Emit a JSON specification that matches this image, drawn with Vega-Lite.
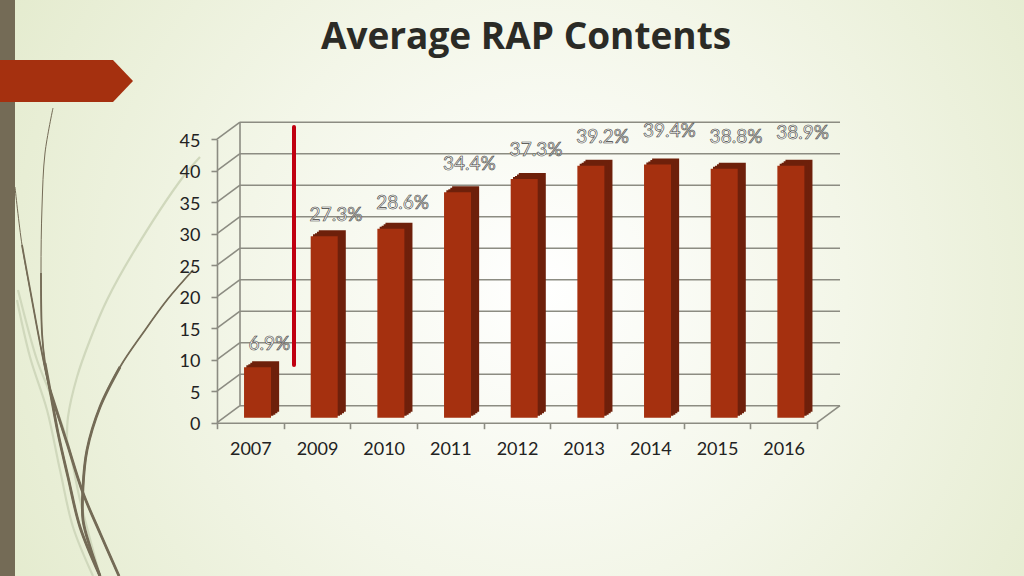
{
"$schema":"https://vega.github.io/schema/vega-lite/v6.json",
"width":1024,"height":576,"padding":0,"autosize":{"type":"none"},
"background":"#e6ecd0",
"title":{"text":"Average RAP Contents","orient":"top","anchor":"middle","offset":-57,"dx":14,"font":"Open Sans","fontSize":37,"fontWeight":"bold","color":"#2b2b26"},
"config":{"view":{"stroke":null},"font":"Lato","axis":{"grid":false}},
"datasets":{
"years":[
{"year":"2007","value":8,"zero":0,"label":"6.9%","labelAt":12.5},
{"year":"2009","value":28.8,"zero":0,"label":"27.3%","labelAt":33},
{"year":"2010","value":30,"zero":0,"label":"28.6%","labelAt":34.9},
{"year":"2011","value":35.8,"zero":0,"label":"34.4%","labelAt":41},
{"year":"2012","value":37.9,"zero":0,"label":"37.3%","labelAt":43.3},
{"year":"2013","value":40,"zero":0,"label":"39.2%","labelAt":45.3},
{"year":"2014","value":40.2,"zero":0,"label":"39.4%","labelAt":46.3},
{"year":"2015","value":39.5,"zero":0,"label":"38.8%","labelAt":45.4},
{"year":"2016","value":40,"zero":0,"label":"38.9%","labelAt":46}
],
"levels":[{"v":0},{"v":5},{"v":10},{"v":15},{"v":20},{"v":25},{"v":30},{"v":35},{"v":40},{"v":45}],
"curves":[
{"c":"A","i":0,"px":53,"py":108},{"c":"A","i":1,"px":45,"py":153},{"c":"A","i":2,"px":42,"py":207},{"c":"A","i":3,"px":41,"py":273},{"c":"A","i":4,"px":42,"py":333},{"c":"A","i":5,"px":45,"py":363},{"c":"A","i":6,"px":50,"py":390},{"c":"A","i":7,"px":58,"py":433},{"c":"A","i":8,"px":68,"py":477},{"c":"A","i":9,"px":80,"py":527},{"c":"A","i":10,"px":100,"py":576},
{"c":"B","i":0,"px":15,"py":187},{"c":"B","i":1,"px":22,"py":245},{"c":"B","i":2,"px":32,"py":300},{"c":"B","i":3,"px":40,"py":343},{"c":"B","i":4,"px":50,"py":390},{"c":"B","i":5,"px":67,"py":443},{"c":"B","i":6,"px":83,"py":493},{"c":"B","i":7,"px":100,"py":533},{"c":"B","i":8,"px":119,"py":576},
{"c":"D","i":0,"px":193,"py":270},{"c":"D","i":1,"px":167,"py":300},{"c":"D","i":2,"px":143,"py":333},{"c":"D","i":3,"px":120,"py":367},{"c":"D","i":4,"px":100,"py":407},{"c":"D","i":5,"px":87,"py":450},{"c":"D","i":6,"px":83,"py":487},{"c":"D","i":7,"px":83,"py":520},{"c":"D","i":8,"px":90,"py":547},{"c":"D","i":9,"px":100,"py":576},
{"c":"E","i":0,"px":200,"py":157},{"c":"E","i":1,"px":183,"py":177},{"c":"E","i":2,"px":133,"py":253},{"c":"E","i":3,"px":107,"py":300},{"c":"E","i":4,"px":90,"py":340},{"c":"E","i":5,"px":77,"py":377},{"c":"E","i":6,"px":68,"py":417},{"c":"E","i":7,"px":67,"py":443},
{"c":"F","i":0,"px":17,"py":300},{"c":"F","i":1,"px":30,"py":357},{"c":"F","i":2,"px":47,"py":410},{"c":"F","i":3,"px":60,"py":470},{"c":"F","i":4,"px":73,"py":527},{"c":"F","i":5,"px":93,"py":576},
{"c":"G","i":0,"px":18,"py":290},{"c":"G","i":1,"px":37,"py":360},{"c":"G","i":2,"px":50,"py":393},{"c":"G","i":3,"px":67,"py":440},{"c":"G","i":4,"px":80,"py":500},{"c":"G","i":5,"px":100,"py":576}
]
},
"resolve":{"scale":{"x":"independent","y":"independent"}},
"layer":[
{"data":{"values":[{"x0":0,"x1":1024,"y0":0,"y1":576}]},
"mark":{"type":"rect","fill":{"gradient":"radial","x1":0.53,"y1":0.5,"r1":0,"x2":0.53,"y2":0.5,"r2":0.74,"stops":[{"offset":0,"color":"#ffffff"},{"offset":0.4,"color":"#f3f6e8"},{"offset":1,"color":"#dde6c2"}]}},
"encoding":{
"x":{"field":"x0","type":"quantitative","axis":null,"scale":{"domain":[0,1024],"range":[0,1024],"nice":false,"zero":false}},
"x2":{"field":"x1"},
"y":{"field":"y0","type":"quantitative","axis":null,"scale":{"domain":[0,576],"range":[0,576],"nice":false,"zero":false}},
"y2":{"field":"y1"}}},
{"data":{"name":"curves"},"mark":{"type":"line","interpolate":"catmull-rom","color":"#d0d8bc","strokeWidth":2.2},
"transform":[{"filter":"datum.c=='E'||datum.c=='F'||datum.c=='G'"}],
"encoding":{"x":{"field":"px","type":"quantitative","axis":null,"scale":{"domain":[0,1024],"range":[0,1024],"nice":false,"zero":false}},"y":{"field":"py","type":"quantitative","axis":null,"scale":{"domain":[0,576],"range":[0,576],"nice":false,"zero":false}},"detail":{"field":"c"},"order":{"field":"i"}}},
{"data":{"name":"curves"},"mark":{"type":"line","interpolate":"catmull-rom","color":"#746b56","strokeWidth":1},
"transform":[{"filter":"datum.c=='A'||datum.c=='B'||datum.c=='D'"}],
"encoding":{"x":{"field":"px","type":"quantitative","axis":null,"scale":{"domain":[0,1024],"range":[0,1024],"nice":false,"zero":false}},"y":{"field":"py","type":"quantitative","axis":null,"scale":{"domain":[0,576],"range":[0,576],"nice":false,"zero":false}},"detail":{"field":"c"},"order":{"field":"i"}}},
{"data":{"name":"curves"},"mark":{"type":"line","interpolate":"catmull-rom","color":"#746b56","strokeWidth":1.8},
"transform":[{"filter":"(datum.c=='A'||datum.c=='B'||datum.c=='D')&&datum.py>=240"}],
"encoding":{"x":{"field":"px","type":"quantitative","axis":null,"scale":{"domain":[0,1024],"range":[0,1024],"nice":false,"zero":false}},"y":{"field":"py","type":"quantitative","axis":null,"scale":{"domain":[0,576],"range":[0,576],"nice":false,"zero":false}},"detail":{"field":"c"},"order":{"field":"i"}}},
{"data":{"name":"curves"},"mark":{"type":"line","interpolate":"catmull-rom","color":"#746b56","strokeWidth":2.8},
"transform":[{"filter":"(datum.c=='A'||datum.c=='B'||datum.c=='D')&&datum.py>=360"}],
"encoding":{"x":{"field":"px","type":"quantitative","axis":null,"scale":{"domain":[0,1024],"range":[0,1024],"nice":false,"zero":false}},"y":{"field":"py","type":"quantitative","axis":null,"scale":{"domain":[0,576],"range":[0,576],"nice":false,"zero":false}},"detail":{"field":"c"},"order":{"field":"i"}}},
{"data":{"values":[{"x0":0,"x1":15,"y0":0,"y1":576}]},"mark":{"type":"rect","color":"#746b56"},
"encoding":{"x":{"field":"x0","type":"quantitative","axis":null,"scale":{"domain":[0,1024],"range":[0,1024],"nice":false,"zero":false}},"x2":{"field":"x1"},"y":{"field":"y0","type":"quantitative","axis":null,"scale":{"domain":[0,576],"range":[0,576],"nice":false,"zero":false}},"y2":{"field":"y1"}}},
{"data":{"values":[{"px":0,"top":60,"bot":102},{"px":113,"top":60,"bot":102},{"px":133,"top":81,"bot":81}]},"mark":{"type":"area","color":"#a5300f","opacity":1},
"encoding":{"x":{"field":"px","type":"quantitative","axis":null,"scale":{"domain":[0,1024],"range":[0,1024],"nice":false,"zero":false}},"y":{"field":"top","type":"quantitative","axis":null,"scale":{"domain":[0,576],"range":[0,576],"nice":false,"zero":false}},"y2":{"field":"bot"}}},
{"data":{"name":"levels"},"mark":{"type":"rule","color":"#8c8c82","strokeWidth":1.6,"yOffset":-17},
"encoding":{
"x":{"datum":240,"type":"quantitative","axis":null,"scale":{"domain":[0,1024],"range":[0,1024],"nice":false,"zero":false}},
"x2":{"datum":840},
"y":{"field":"v","type":"quantitative","axis":null,"scale":{"domain":[0,45],"range":[422.7,139.2],"nice":false}}}},
{"data":{"name":"levels"},"mark":{"type":"rule","color":"#8c8c82","strokeWidth":1.6,"y2Offset":-17},
"encoding":{
"x":{"datum":217,"type":"quantitative","axis":null,"scale":{"domain":[0,1024],"range":[0,1024],"nice":false,"zero":false}},"x2":{"datum":240},
"y":{"field":"v","type":"quantitative","axis":null,"scale":{"domain":[0,45],"range":[422.7,139.2],"nice":false}},"y2":{"field":"v"}}},
{"data":{"values":[{"v":0}]},"mark":{"type":"rule","color":"#8c8c82","strokeWidth":1.6,"y2Offset":-17},
"encoding":{
"x":{"datum":817,"type":"quantitative","axis":null,"scale":{"domain":[0,1024],"range":[0,1024],"nice":false,"zero":false}},"x2":{"datum":840},
"y":{"field":"v","type":"quantitative","axis":null,"scale":{"domain":[0,45],"range":[422.7,139.2],"nice":false}},"y2":{"field":"v"}}},
{"data":{"values":[{"a":0,"b":45}]},"mark":{"type":"rule","color":"#8c8c82","strokeWidth":1.6,"yOffset":-17,"y2Offset":-17},
"encoding":{
"x":{"datum":240,"type":"quantitative","axis":null,"scale":{"domain":[0,1024],"range":[0,1024],"nice":false,"zero":false}},
"y":{"field":"a","type":"quantitative","axis":null,"scale":{"domain":[0,45],"range":[422.7,139.2],"nice":false}},"y2":{"field":"b"}}},
{"data":{"name":"years"},
"mark":{"type":"bar","size":27,"color":"#6e200b","xOffset":15.3,"yOffset":-11,"y2Offset":-11},
"encoding":{
"x":{"field":"year","type":"nominal","title":null,
"scale":{"type":"band","domain":["2007","2009","2010","2011","2012","2013","2014","2015","2016"],"range":[217,817],"paddingInner":0,"paddingOuter":0},
"axis":{"orient":"bottom","offset":-153.3,"zindex":1,"tickBand":"extent","labelAngle":0,"labelFontSize":18,"labelFont":"Lato","labelColor":"#222222","labelPadding":12,"tickSize":6,"tickColor":"#8c8c82","tickWidth":1.6,"domainColor":"#8c8c82","domainWidth":1.6,"grid":false}},
"y":{"field":"value","type":"quantitative","stack":null,"title":null,
"scale":{"domain":[0,45],"range":[422.7,139.2],"nice":false},
"axis":{"orient":"left","offset":-217,"zindex":1,"values":[0,5,10,15,20,25,30,35,40,45],"labelFontSize":18,"labelFont":"Lato","labelColor":"#222222","labelPadding":11,"labelOffset":2,"tickSize":6,"tickColor":"#8c8c82","tickWidth":1.6,"domainColor":"#8c8c82","domainWidth":1.6,"grid":false}},
"y2":{"field":"zero"}}},
{"data":{"name":"years"},"mark":{"type":"bar","size":27,"color":"#6e200b","xOffset":13.5,"yOffset":-9.5,"y2Offset":-9.5},
"encoding":{"x":{"field":"year","type":"nominal","axis":null,"scale":{"type":"band","domain":["2007","2009","2010","2011","2012","2013","2014","2015","2016"],"range":[217,817],"paddingInner":0,"paddingOuter":0}},"y":{"field":"value","type":"quantitative","stack":null,"axis":null,"scale":{"domain":[0,45],"range":[422.7,139.2],"nice":false}},"y2":{"field":"zero"}}},
{"data":{"name":"years"},"mark":{"type":"bar","size":27,"color":"#6e200b","xOffset":11.5,"yOffset":-8,"y2Offset":-8},
"encoding":{"x":{"field":"year","type":"nominal","axis":null,"scale":{"type":"band","domain":["2007","2009","2010","2011","2012","2013","2014","2015","2016"],"range":[217,817],"paddingInner":0,"paddingOuter":0}},"y":{"field":"value","type":"quantitative","stack":null,"axis":null,"scale":{"domain":[0,45],"range":[422.7,139.2],"nice":false}},"y2":{"field":"zero"}}},
{"data":{"name":"years"},"mark":{"type":"bar","size":27,"color":"#6e200b","xOffset":9.5,"yOffset":-7,"y2Offset":-7},
"encoding":{"x":{"field":"year","type":"nominal","axis":null,"scale":{"type":"band","domain":["2007","2009","2010","2011","2012","2013","2014","2015","2016"],"range":[217,817],"paddingInner":0,"paddingOuter":0}},"y":{"field":"value","type":"quantitative","stack":null,"axis":null,"scale":{"domain":[0,45],"range":[422.7,139.2],"nice":false}},"y2":{"field":"zero"}}},
{"data":{"name":"years"},"mark":{"type":"bar","size":27,"color":"#a5300f","xOffset":7.2,"yOffset":-5,"y2Offset":-5},
"encoding":{"x":{"field":"year","type":"nominal","axis":null,"scale":{"type":"band","domain":["2007","2009","2010","2011","2012","2013","2014","2015","2016"],"range":[217,817],"paddingInner":0,"paddingOuter":0}},"y":{"field":"value","type":"quantitative","stack":null,"axis":null,"scale":{"domain":[0,45],"range":[422.7,139.2],"nice":false}},"y2":{"field":"zero"}}},
{"data":{"name":"years"},"mark":{"type":"text","dx":19,"fontSize":19,"font":"Lato","fill":"#ffffff","stroke":"#3c3c38","strokeWidth":0.6,"baseline":"middle"},
"encoding":{"x":{"field":"year","type":"nominal","axis":null,"scale":{"type":"band","domain":["2007","2009","2010","2011","2012","2013","2014","2015","2016"],"range":[217,817],"paddingInner":0,"paddingOuter":0}},"y":{"field":"labelAt","type":"quantitative","axis":null,"scale":{"domain":[0,45],"range":[422.7,139.2],"nice":false}},"text":{"field":"label"}}},
{"data":{"values":[{"px":294,"a":127,"b":365}]},
"mark":{"type":"rule","color":"#c00010","strokeWidth":4,"strokeCap":"round"},
"encoding":{
"x":{"field":"px","type":"quantitative","axis":null,"scale":{"domain":[0,1024],"range":[0,1024],"nice":false,"zero":false}},
"y":{"field":"a","type":"quantitative","axis":null,"scale":{"domain":[0,576],"range":[0,576],"nice":false,"zero":false}},
"y2":{"field":"b"}}}
]
}
